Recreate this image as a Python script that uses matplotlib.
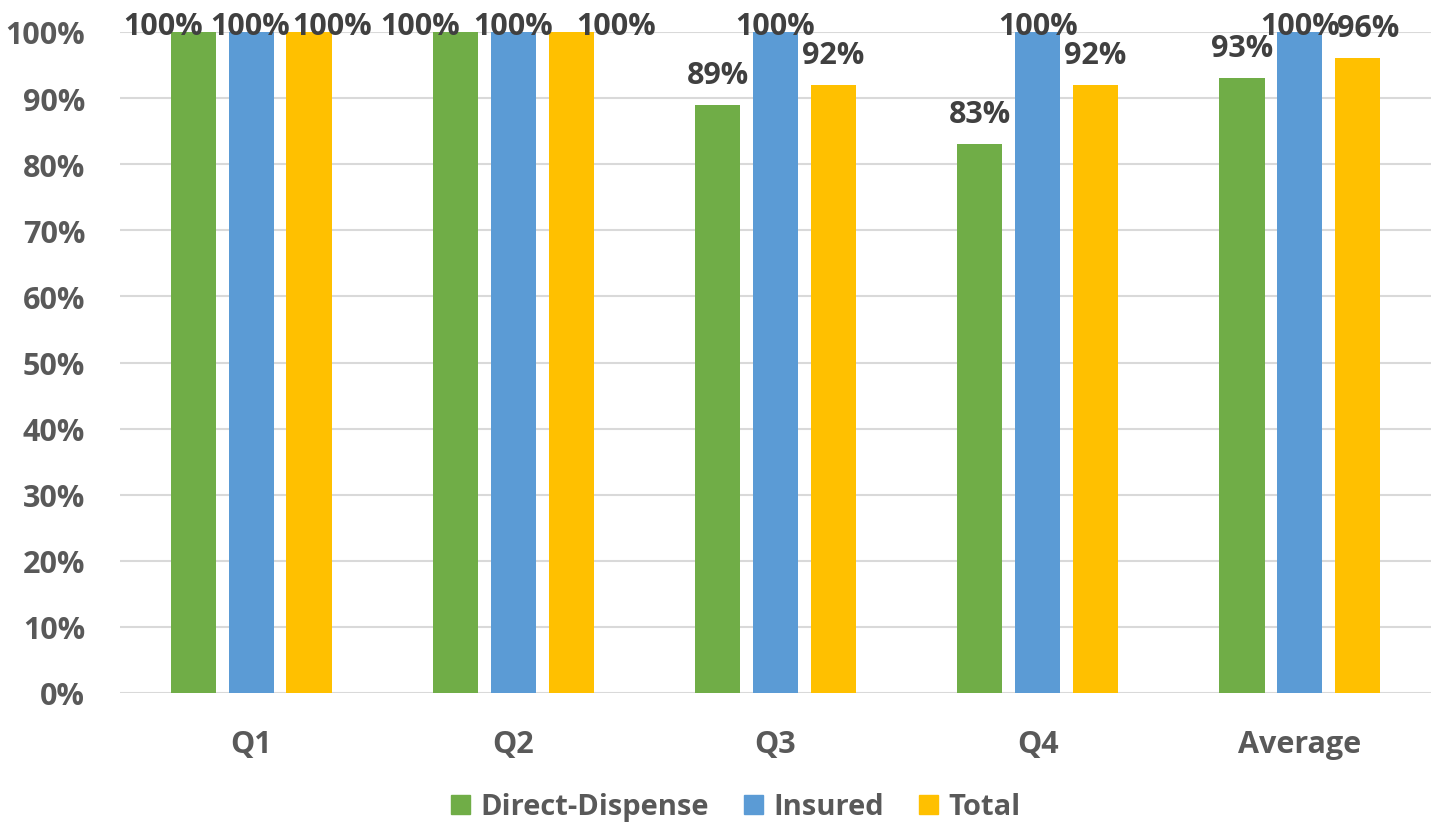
import numpy as np
from matplotlib import pyplot as plt
from matplotlib.patches import Patch

categories = ["Q1", "Q2", "Q3", "Q4", "Average"]
direct = [100, 100, 89, 83, 93]
insured = [100, 100, 100, 100, 100]
total = [100, 100, 92, 92, 96]
series_names = ["Direct-Dispense", "Insured", "Total"]
colors = ["#70AD47", "#5B9BD5", "#FFC000"]

# sideways nudges (px) that Excel used to keep the 100% labels apart
label_dx = [
    [-30, -1, 23],
    [-35, 0, 45],
    [0, 0, 0],
    [0, 0, 0],
    [0, 0, 10],
]


def main():
    plt.rcParams['font.family'] = ['Open Sans', 'DejaVu Sans']
    plt.rcParams['font.weight'] = 'bold'

    fig = plt.figure(figsize=(14.4, 8.29), dpi=100)
    ax = fig.add_axes([120 / 1440, 135 / 829, 1311 / 1440, 661 / 829])

    x = np.arange(len(categories))
    width = 0.172
    step = 0.221
    data = [direct, insured, total]

    for j, vals in enumerate(data):
        pos = x + (j - 1) * step
        ax.bar(pos, vals, width, color=colors[j], zorder=3, label=series_names[j])
        for i, v in enumerate(vals):
            dy = -1.4 if v >= 99 else 15.8
            ax.annotate(f"{v}%", (pos[i], v), xytext=(label_dx[i][j] * 0.72, dy),
                        textcoords='offset points', ha='center', va='baseline',
                        fontsize=22, fontweight='bold', color='#404040',
                        annotation_clip=False, zorder=4)

    ax.set_xlim(-0.5, len(categories) - 0.5)
    ax.set_ylim(0, 100)
    ax.set_yticks(np.arange(0, 101, 10))
    ax.set_yticklabels([f"{t}%" for t in range(0, 101, 10)])
    ax.set_xticks(x)
    ax.set_xticklabels(categories)
    ax.tick_params(axis='y', length=0, pad=25, labelsize=22, labelcolor='#595959')
    ax.tick_params(axis='x', length=0, pad=26, labelsize=22, labelcolor='#595959')
    for lab in ax.get_xticklabels() + ax.get_yticklabels():
        lab.set_fontweight('bold')

    ax.grid(axis='y', color='#D9D9D9', linewidth=1.5, zorder=0)
    ax.set_axisbelow(True)
    for s in ax.spines.values():
        s.set_visible(False)

    handles = [Patch(color=c, label=n) for c, n in zip(colors, series_names)]
    leg = fig.legend(handles=handles, loc='center', bbox_to_anchor=(0.511, 21 / 829),
                     ncol=3, frameon=False, handlelength=0.65, handleheight=0.65,
                     handletextpad=0.35, columnspacing=1.2,
                     prop={'size': 21, 'weight': 'bold'})
    for t in leg.get_texts():
        t.set_color('#595959')

    fig.savefig("out.png", dpi=100)
    fig.clf()


if __name__ == "__main__":
    main()
